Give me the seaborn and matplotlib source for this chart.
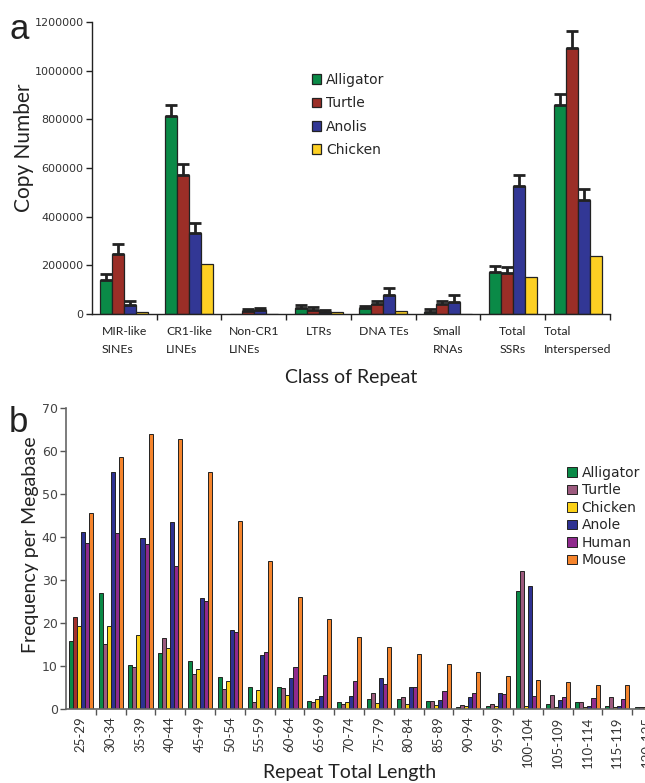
import matplotlib
matplotlib.use("Agg")
import matplotlib.pyplot as plt
import seaborn as sns
import numpy as np
import pandas as pd
from matplotlib.ticker import FixedLocator

# ---------------- Panel a data ----------------
classes_a = ["MIR-like\nSINEs", "CR1-like\nLINEs", "Non-CR1\nLINEs", "LTRs",
             "DNA TEs", "Small\nRNAs", "Total\nSSRs", "Total\nInterspersed"]
species_a = ["Alligator", "Turtle", "Anolis", "Chicken"]
alligator_a = [138000, 815000, 0, 25000, 23000, 9000, 174000, 858000]
turtle_a = [246000, 570000, 14000, 17000, 42000, 41000, 168000, 1094000]
anolis_a = [38000, 334000, 15000, 8000, 79000, 49000, 525000, 469000]
chicken_a = [10000, 205000, 0, 10000, 11000, 1000, 152000, 239000]
alligator_err = [27000, 44000, 0, 13000, 11000, 13000, 24000, 46000]
turtle_err = [43000, 47000, 8000, 11000, 13000, 11000, 27000, 70000]
anolis_err = [14000, 41000, 9000, 7000, 29000, 27000, 47000, 44000]
chicken_err = [0, 0, 0, 0, 0, 0, 0, 0]
yticks_a = [0, 200000, 400000, 600000, 800000, 1000000, 1200000]

# ---------------- Panel b data ----------------
lengths_b = ["25-29", "30-34", "35-39", "40-44", "45-49", "50-54", "55-59", "60-64",
             "65-69", "70-74", "75-79", "80-84", "85-89", "90-94", "95-99", "100-104",
             "105-109", "110-114", "115-119", "120-125"]
species_b = ["Alligator", "Turtle", "Chicken", "Anole", "Human", "Mouse"]
alligator_b = [16.0, 27.1, 10.3, 13.1, 11.2, 7.6, 5.3, 5.3, 2.0, 1.6, 2.4, 2.4, 2.0, 0.5, 0.8, 27.5, 1.2, 1.6, 0.8, 0.45]
turtle_b = [21.5, 15.3, 9.9, 16.5, 8.3, 4.65, 1.6, 4.9, 1.6, 1.2, 3.7, 2.9, 2.0, 0.9, 1.3, 32.2, 3.3, 1.6, 2.9, 0.45]
chicken_b = [19.4, 19.4, 17.2, 14.2, 9.4, 6.5, 4.6, 3.3, 2.5, 1.8, 1.4, 1.15, 0.9, 0.7, 0.7, 0.7, 0.5, 0.45, 0.5, 0.45]
anole_b = [41.2, 55.3, 39.8, 43.5, 25.8, 18.5, 12.6, 7.4, 3.0, 3.0, 7.4, 5.2, 2.2, 2.9, 3.7, 28.7, 2.2, 0.7, 0.8, 2.2]
human_b = [38.7, 41.0, 38.5, 33.4, 25.1, 17.9, 13.3, 9.9, 8.0, 6.6, 6.0, 5.2, 4.3, 3.7, 3.6, 3.2, 2.9, 2.6, 2.4, 1.5]
mouse_b = [45.6, 58.7, 64.1, 62.8, 55.3, 43.8, 34.5, 26.2, 21.1, 16.9, 14.4, 12.9, 10.5, 8.7, 7.7, 6.8, 6.3, 5.65, 5.6, 3.0]
yticks_b = [0, 10, 20, 30, 40, 50, 60, 70]

# ---------------- Style ----------------
sns.set_style("ticks")
plt.rcParams["font.family"] = ["DejaVu Sans"]
LBL = "Lato"

pal_a = {"Alligator": "#0a8a47", "Turtle": "#9b2e27", "Anolis": "#323795", "Chicken": "#fdd023"}
pal_b = {"Alligator": "#0a8a47", "Turtle": "#9c5a7e", "Chicken": "#fcd116",
         "Anole": "#2e3192", "Human": "#8f2a8d", "Mouse": "#f5842c"}

df_a = pd.DataFrame({
    "cls": np.tile(classes_a, len(species_a)),
    "species": np.repeat(species_a, len(classes_a)),
    "count": np.concatenate([alligator_a, turtle_a, anolis_a, chicken_a]),
})
err_a = [alligator_err, turtle_err, anolis_err, chicken_err]

df_b = pd.DataFrame({
    "len": np.tile(lengths_b, len(species_b)),
    "species": np.repeat(species_b, len(lengths_b)),
    "freq": np.concatenate([alligator_b, turtle_b, chicken_b, anole_b, human_b, mouse_b]),
})

fig = plt.figure(figsize=(6.45, 7.83), dpi=100)

# ---------------- Panel a ----------------
axA = fig.add_axes([0.1426, 0.599, 0.8031, 0.373])
sns.barplot(data=df_a, x="cls", y="count", hue="species", palette=pal_a,
            order=classes_a, hue_order=species_a, width=0.74, errorbar=None,
            edgecolor="#222222", linewidth=0.9, saturation=1, ax=axA)
for cont, errs in zip(axA.containers, err_a):
    xs = [p.get_x() + p.get_width() / 2 for p in cont.patches]
    hs = [p.get_height() for p in cont.patches]
    sel = [i for i, e in enumerate(errs) if e > 0]
    if sel:
        axA.errorbar([xs[i] for i in sel], [hs[i] for i in sel],
                     yerr=[[0] * len(sel), [errs[i] for i in sel]],
                     fmt="none", ecolor="#222222", elinewidth=2.0, capsize=4,
                     capthick=2.0, zorder=3)
axA.set_xlim(-0.5, len(classes_a) - 0.5)
axA.set_ylim(0, 1200000)
axA.set_yticks(yticks_a)
axA.set_yticklabels([str(v) for v in yticks_a], fontsize=8, color="#333333")
axA.tick_params(axis="y", length=4, width=1, color="#222222", pad=2)
axA.set_xticks(range(len(classes_a)))
axA.set_xticklabels(classes_a, fontsize=8.8, family=LBL, color="#222222",
                    linespacing=1.7, multialignment="left")
axA.tick_params(axis="x", which="major", length=0, pad=9)
axA.xaxis.set_minor_locator(FixedLocator(np.arange(0.5, len(classes_a), 1.0)))
axA.tick_params(axis="x", which="minor", length=4, width=1, color="#222222")
for s in ["top", "right"]:
    axA.spines[s].set_visible(False)
for s in ["left", "bottom"]:
    axA.spines[s].set_color("#222222")
    axA.spines[s].set_linewidth(1.0)
axA.set_xlabel("Class of Repeat", fontsize=14, family=LBL, color="#222222")
axA.xaxis.set_label_coords(0.5, -0.19)
axA.set_ylabel("Copy Number", fontsize=15, family=LBL, color="#222222")
axA.yaxis.set_label_coords(-0.112, 0.57)
axA.legend(loc="upper left", bbox_to_anchor=(0.4833, 0.907), bbox_transform=fig.transFigure,
           frameon=False, fontsize=10, handlelength=0.7, handleheight=0.7,
           handletextpad=0.35, labelspacing=0.68, borderpad=0, borderaxespad=0)
fig.text(0.014, 0.962, "a", fontsize=25, family="Liberation Sans", color="#222222", va="center")

# ---------------- Panel b ----------------
axB = fig.add_axes([0.1023, 0.0941, 0.924, 0.3844])
sns.barplot(data=df_b, x="len", y="freq", hue="species", palette=pal_b,
            order=lengths_b, hue_order=species_b, width=0.81, errorbar=None,
            edgecolor="#222222", linewidth=0.7, saturation=1, ax=axB)
# first turtle bar appears brick red in the reference
axB.containers[1].patches[0].set_facecolor("#a3302b")
axB.set_xlim(-0.5, len(lengths_b) - 0.5)
axB.set_ylim(0, 70)
axB.set_yticks(yticks_b)
axB.set_yticklabels([str(v) for v in yticks_b], fontsize=9, color="#444444")
axB.tick_params(axis="y", length=4, width=1, color="#555555", pad=2)
axB.set_xticks(range(len(lengths_b)))
axB.set_xticklabels(lengths_b, fontsize=9.5, family=LBL, rotation=90, color="#333333")
axB.tick_params(axis="x", which="major", length=0, pad=5)
axB.xaxis.set_minor_locator(FixedLocator(np.arange(0.5, len(lengths_b), 1.0)))
axB.tick_params(axis="x", which="minor", length=4, width=1, color="#555555")
for s in ["top", "right"]:
    axB.spines[s].set_visible(False)
for s in ["left", "bottom"]:
    axB.spines[s].set_color("#666666")
    axB.spines[s].set_linewidth(1.2)
axB.set_xlabel("Repeat Total Length", fontsize=14, family=LBL, color="#222222")
axB.xaxis.set_label_coords(0.4765, -0.182)
axB.set_ylabel("Frequency per Megabase", fontsize=14, family=LBL, color="#222222")
axB.yaxis.set_label_coords(-0.046, 0.546)
axB.legend(loc="upper left", bbox_to_anchor=(0.879, 0.405), bbox_transform=fig.transFigure,
           frameon=False, fontsize=10, handlelength=0.7, handleheight=0.7,
           handletextpad=0.35, labelspacing=0.25, borderpad=0, borderaxespad=0)
fig.text(0.014, 0.46, "b", fontsize=25, family="Liberation Sans", color="#222222", va="center")

fig.savefig("out.png", dpi=100)
